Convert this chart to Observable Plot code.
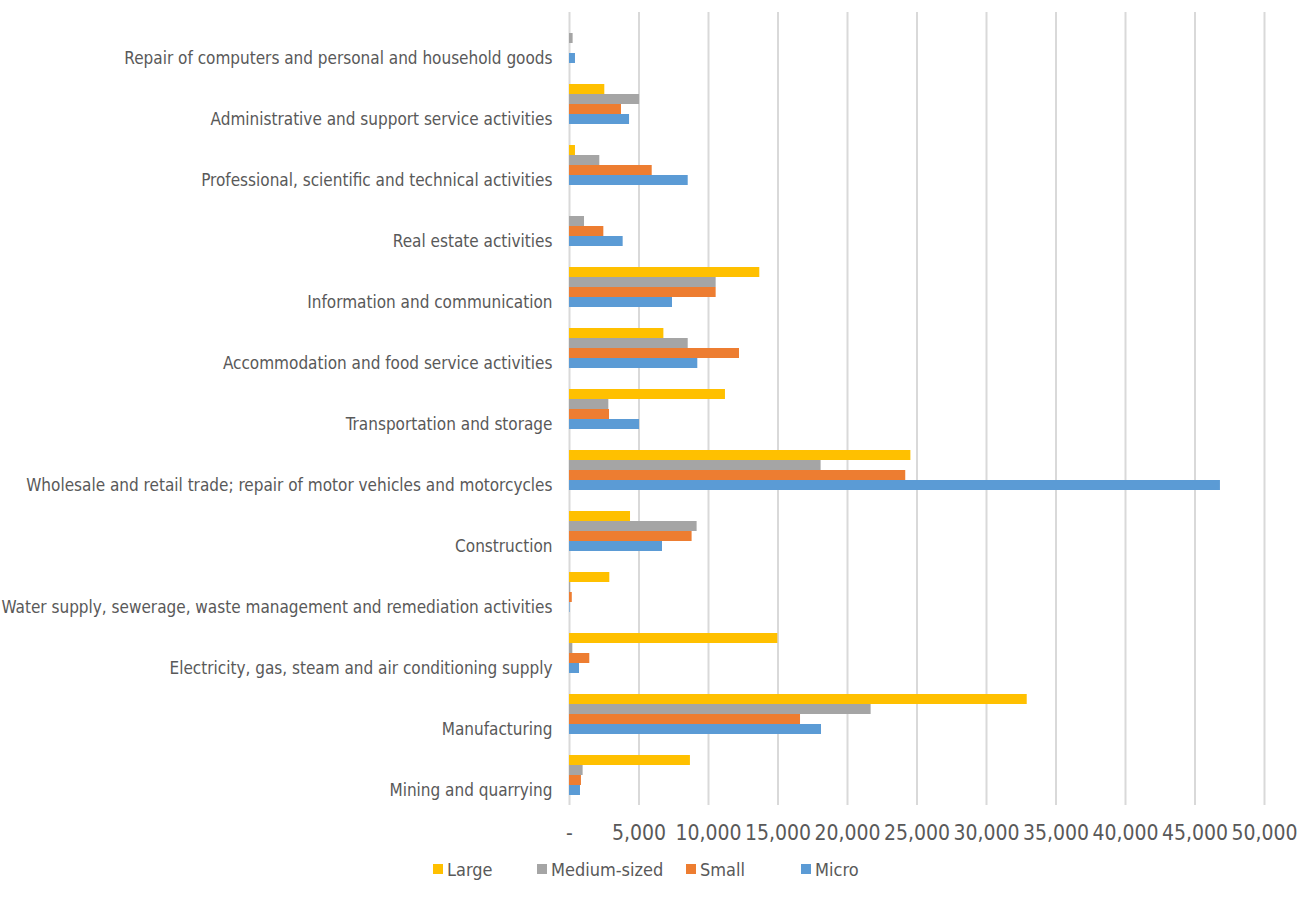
<!DOCTYPE html>
<html>
<head>
<meta charset="utf-8">
<script src="https://cdn.jsdelivr.net/npm/d3@7"></script>
<script src="https://cdn.jsdelivr.net/npm/@observablehq/plot@0.6"></script>
<style>
  html, body { margin: 0; padding: 0; background: #fff; }
  body { width: 1312px; height: 909px; overflow: hidden; position: relative; font-family: "DejaVu Sans Condensed", "Liberation Sans", sans-serif; }
  #legend { position: absolute; left: 0; top: 855px; width: 1312px; height: 28px; font-size: 18px; color: #595959; }
  .item { position: absolute; top: 0; height: 28px; display: flex; align-items: center; white-space: nowrap; }
  .sw { width: 10px; height: 10px; margin-right: 4px; }
</style>
</head>
<body>
<div id="chart"></div>
<div id="legend"></div>
<script>
const categories = [
  "Repair of computers and personal and household goods",
  "Administrative and support service activities",
  "Professional, scientific and technical activities",
  "Real estate activities",
  "Information and communication",
  "Accommodation and food service activities",
  "Transportation and storage",
  "Wholesale and retail trade; repair of motor vehicles and motorcycles",
  "Construction",
  "Water supply, sewerage, waste management and remediation activities",
  "Electricity, gas, steam and air conditioning supply",
  "Manufacturing",
  "Mining and quarrying"
];
const seriesNames = ["Large", "Medium-sized", "Small", "Micro"];
const seriesColors = ["#FFC000", "#A5A5A5", "#ED7D31", "#5B9BD5"];
const large  = [0, 2540, 430, 0, 13690, 6790, 11220, 24560, 4390, 2900, 14990, 32930, 8700];
const medium = [260, 5040, 2180, 1080, 10550, 8540, 2830, 18100, 9180, 80, 240, 21700, 980];
const small  = [0, 3740, 5950, 2470, 10550, 12230, 2880, 24190, 8820, 200, 1460, 16620, 860];
const micro  = [430, 4320, 8540, 3860, 7410, 9230, 5040, 46830, 6690, 40, 720, 18130, 790];
const xTicks = [0, 5000, 10000, 15000, 20000, 25000, 30000, 35000, 40000, 45000, 50000];

const seriesValues = [large, medium, small, micro];
const data = [];
categories.forEach((c, i) => {
  seriesNames.forEach((s, j) => data.push({category: c, series: s, value: seriesValues[j][i]}));
});

const fmt = d => d === 0 ? "-" : d3.format(",")(d);
const font = '"DejaVu Sans Condensed", "Liberation Sans", sans-serif';

const chart = Plot.plot({
  width: 1312,
  height: 852,
  marginLeft: 569,
  marginRight: 48,
  marginTop: 11,
  marginBottom: 46,
  style: {fontFamily: font, color: "#595959", background: "#fff"},
  x: {domain: [0, 50000]},
  fy: {domain: categories, padding: 0},
  y: {domain: seriesNames, paddingInner: 0, paddingOuter: 0.86, axis: null},
  color: {domain: seriesNames, range: seriesColors},
  marks: [
    Plot.ruleX(xTicks, {x: d => d, stroke: "#d9d9d9", strokeWidth: 2}),
    Plot.barX(data, {x: "value", y: "series", fy: "category", fill: "series", inset: 0}),
    Plot.axisX({ticks: xTicks, tickSize: 0, tickPadding: 20, tickFormat: fmt, fontSize: 21, fill: "#595959", label: null}),
    Plot.axisFy({anchor: "left", tickSize: 0, tickPadding: 17, dy: 16, fontSize: 17, fill: "#595959", label: null})
  ]
});
document.getElementById("chart").appendChild(chart);

const legendLeft = [433, 537, 686, 801];
const legend = document.getElementById("legend");
seriesNames.forEach((s, j) => {
  const it = document.createElement("div");
  it.className = "item";
  it.style.left = legendLeft[j] + "px";
  it.innerHTML = `<span class="sw" style="background:${seriesColors[j]}"></span><span>${s}</span>`;
  legend.appendChild(it);
});
</script>
</body>
</html>
